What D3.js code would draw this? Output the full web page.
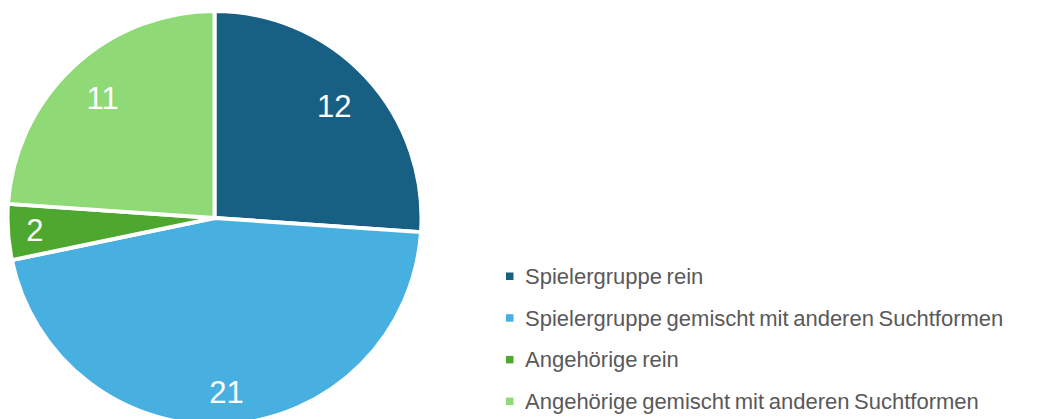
<!DOCTYPE html>
<html>
<head>
<meta charset="utf-8">
<script src="https://cdn.jsdelivr.net/npm/d3@7"></script>
<style>
  body { margin: 0; background: #fff; }
  svg { display: block; }
</style>
</head>
<body>
<div id="chart"></div>
<script>
// chart data
var categories = [
  "Spielergruppe rein",
  "Spielergruppe gemischt mit anderen Suchtformen",
  "Angehörige rein",
  "Angehörige gemischt mit anderen Suchtformen"
];
var values = [12, 21, 2, 11];
var colors = ["#176083", "#47b0e0", "#4ea72e", "#8fd976"];

// layout
var width = 1053, height = 419;
var cx = 214.5, cy = 218, radius = 207;
// Excel "best fit" label distances from centre
var labelDist = [164, 174, 180, 164];

var svg = d3.select("#chart")
  .append("svg")
  .attr("width", width)
  .attr("height", height);

var pie = d3.pie().sort(null).value(function (d) { return d; });
var arcs = pie(values);

var arc = d3.arc().innerRadius(0).outerRadius(radius);

var g = svg.append("g")
  .attr("transform", "translate(" + cx + "," + cy + ")");

g.selectAll("path.slice")
  .data(arcs)
  .join("path")
  .attr("class", "slice")
  .attr("d", arc)
  .attr("fill", function (d, i) { return colors[i]; })
  .attr("stroke", "#fff")
  .attr("stroke-width", 4)
  .attr("stroke-linejoin", "round");

// value labels
g.selectAll("text.val")
  .data(arcs)
  .join("text")
  .attr("class", "val")
  .attr("transform", function (d, i) {
    var a = (d.startAngle + d.endAngle) / 2;
    var r = labelDist[i];
    return "translate(" + (Math.sin(a) * r) + "," + (-Math.cos(a) * r) + ")";
  })
  .attr("text-anchor", "middle")
  .attr("dy", "0.36em")
  .attr("fill", "#fff")
  .style("font-family", "'Liberation Sans', Arial, sans-serif")
  .style("font-size", "31px")
  .text(function (d) { return d.data; });

// legend
var legend = svg.append("g").attr("transform", "translate(506,276)");
var rowH = 41.7;

var items = legend.selectAll("g.item")
  .data(categories)
  .join("g")
  .attr("class", "item")
  .attr("transform", function (d, i) { return "translate(0," + (i * rowH) + ")"; });

items.append("rect")
  .attr("x", 0)
  .attr("y", -3.5)
  .attr("width", 7.5)
  .attr("height", 7.5)
  .attr("fill", function (d, i) { return colors[i]; });

items.append("text")
  .attr("x", 19)
  .attr("dy", "0.36em")
  .attr("fill", "#595959")
  .style("font-family", "'Liberation Sans', Arial, sans-serif")
  .style("font-size", "22px")
  .style("word-spacing", "-1.5px")
  .text(function (d) { return d; });
</script>
</body>
</html>
